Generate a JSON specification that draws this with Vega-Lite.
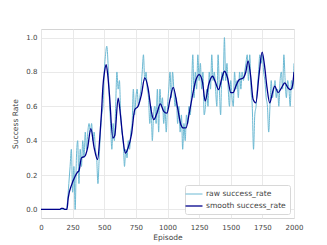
{
  "$schema": "https://vega.github.io/schema/vega-lite/v6.json",
  "width": 253,
  "height": 189,
  "autosize": {"type": "none"},
  "padding": {"left": 41, "top": 29, "right": 33, "bottom": 27},
  "background": "white",
  "config": {
    "font": "DejaVu Sans",
    "view": {"stroke": "#d4d4d4", "strokeWidth": 1},
    "axis": {
      "labelFont": "DejaVu Sans", "titleFont": "DejaVu Sans",
      "labelFontSize": 7, "titleFontSize": 7.5, "titleFontWeight": "normal",
      "labelColor": "#444", "titleColor": "#444",
      "gridColor": "#e6e6e6", "gridWidth": 0.9,
      "domain": false, "ticks": false
    },
    "legend": {"labelFont": "DejaVu Sans", "labelFontSize": 7.6, "labelColor": "#444"}
  },
  "data": {"values": [
    {"ep":0,"v":0,"s":"raw success_rate"},{"ep":10,"v":0,"s":"raw success_rate"},{"ep":20,"v":0,"s":"raw success_rate"},{"ep":30,"v":0,"s":"raw success_rate"},{"ep":40,"v":0,"s":"raw success_rate"},{"ep":50,"v":0,"s":"raw success_rate"},{"ep":60,"v":0,"s":"raw success_rate"},{"ep":70,"v":0,"s":"raw success_rate"},{"ep":80,"v":0,"s":"raw success_rate"},{"ep":90,"v":0,"s":"raw success_rate"},{"ep":100,"v":0,"s":"raw success_rate"},{"ep":110,"v":0,"s":"raw success_rate"},{"ep":120,"v":0,"s":"raw success_rate"},{"ep":130,"v":0,"s":"raw success_rate"},{"ep":140,"v":0,"s":"raw success_rate"},{"ep":150,"v":0,"s":"raw success_rate"},{"ep":160,"v":0,"s":"raw success_rate"},{"ep":170,"v":0,"s":"raw success_rate"},{"ep":180,"v":0,"s":"raw success_rate"},{"ep":190,"v":0,"s":"raw success_rate"},{"ep":200,"v":0,"s":"raw success_rate"},
    {"ep":210,"v":0.05,"s":"raw success_rate"},{"ep":220,"v":0.15,"s":"raw success_rate"},{"ep":230,"v":0.25,"s":"raw success_rate"},{"ep":240,"v":0.35,"s":"raw success_rate"},{"ep":250,"v":0.1,"s":"raw success_rate"},{"ep":260,"v":0.25,"s":"raw success_rate"},{"ep":270,"v":0.0,"s":"raw success_rate"},{"ep":280,"v":0.3,"s":"raw success_rate"},{"ep":290,"v":0.4,"s":"raw success_rate"},{"ep":300,"v":0.15,"s":"raw success_rate"},
    {"ep":310,"v":0.35,"s":"raw success_rate"},{"ep":320,"v":0.25,"s":"raw success_rate"},{"ep":330,"v":0.4,"s":"raw success_rate"},{"ep":340,"v":0.3,"s":"raw success_rate"},{"ep":350,"v":0.45,"s":"raw success_rate"},{"ep":360,"v":0.35,"s":"raw success_rate"},{"ep":370,"v":0.45,"s":"raw success_rate"},{"ep":380,"v":0.5,"s":"raw success_rate"},{"ep":390,"v":0.45,"s":"raw success_rate"},{"ep":400,"v":0.5,"s":"raw success_rate"},
    {"ep":410,"v":0.4,"s":"raw success_rate"},{"ep":420,"v":0.45,"s":"raw success_rate"},{"ep":430,"v":0.35,"s":"raw success_rate"},{"ep":440,"v":0.3,"s":"raw success_rate"},{"ep":450,"v":0.15,"s":"raw success_rate"},{"ep":460,"v":0.3,"s":"raw success_rate"},{"ep":470,"v":0.45,"s":"raw success_rate"},{"ep":480,"v":0.55,"s":"raw success_rate"},{"ep":490,"v":0.6,"s":"raw success_rate"},{"ep":500,"v":0.8,"s":"raw success_rate"},
    {"ep":510,"v":0.9,"s":"raw success_rate"},{"ep":520,"v":0.95,"s":"raw success_rate"},{"ep":530,"v":0.85,"s":"raw success_rate"},{"ep":540,"v":0.65,"s":"raw success_rate"},{"ep":550,"v":0.5,"s":"raw success_rate"},{"ep":560,"v":0.35,"s":"raw success_rate"},{"ep":570,"v":0.5,"s":"raw success_rate"},{"ep":580,"v":0.4,"s":"raw success_rate"},{"ep":590,"v":0.6,"s":"raw success_rate"},{"ep":600,"v":0.8,"s":"raw success_rate"},
    {"ep":610,"v":0.7,"s":"raw success_rate"},{"ep":620,"v":0.75,"s":"raw success_rate"},{"ep":630,"v":0.55,"s":"raw success_rate"},{"ep":640,"v":0.45,"s":"raw success_rate"},{"ep":650,"v":0.4,"s":"raw success_rate"},{"ep":660,"v":0.25,"s":"raw success_rate"},{"ep":670,"v":0.35,"s":"raw success_rate"},{"ep":680,"v":0.3,"s":"raw success_rate"},{"ep":690,"v":0.4,"s":"raw success_rate"},{"ep":700,"v":0.35,"s":"raw success_rate"},
    {"ep":710,"v":0.45,"s":"raw success_rate"},{"ep":720,"v":0.5,"s":"raw success_rate"},{"ep":730,"v":0.7,"s":"raw success_rate"},{"ep":740,"v":0.55,"s":"raw success_rate"},{"ep":750,"v":0.65,"s":"raw success_rate"},{"ep":760,"v":0.7,"s":"raw success_rate"},{"ep":770,"v":0.6,"s":"raw success_rate"},{"ep":780,"v":0.65,"s":"raw success_rate"},{"ep":790,"v":0.7,"s":"raw success_rate"},{"ep":800,"v":0.8,"s":"raw success_rate"},
    {"ep":810,"v":0.9,"s":"raw success_rate"},{"ep":820,"v":0.75,"s":"raw success_rate"},{"ep":830,"v":0.8,"s":"raw success_rate"},{"ep":840,"v":0.7,"s":"raw success_rate"},{"ep":850,"v":0.65,"s":"raw success_rate"},{"ep":860,"v":0.5,"s":"raw success_rate"},{"ep":870,"v":0.6,"s":"raw success_rate"},{"ep":880,"v":0.4,"s":"raw success_rate"},{"ep":890,"v":0.55,"s":"raw success_rate"},{"ep":900,"v":0.6,"s":"raw success_rate"},
    {"ep":910,"v":0.5,"s":"raw success_rate"},{"ep":920,"v":0.7,"s":"raw success_rate"},{"ep":930,"v":0.45,"s":"raw success_rate"},{"ep":940,"v":0.7,"s":"raw success_rate"},{"ep":950,"v":0.6,"s":"raw success_rate"},{"ep":960,"v":0.65,"s":"raw success_rate"},{"ep":970,"v":0.5,"s":"raw success_rate"},{"ep":980,"v":0.6,"s":"raw success_rate"},{"ep":990,"v":0.45,"s":"raw success_rate"},{"ep":1000,"v":0.6,"s":"raw success_rate"},
    {"ep":1010,"v":0.7,"s":"raw success_rate"},{"ep":1020,"v":0.8,"s":"raw success_rate"},{"ep":1030,"v":0.65,"s":"raw success_rate"},{"ep":1040,"v":0.8,"s":"raw success_rate"},{"ep":1050,"v":0.7,"s":"raw success_rate"},{"ep":1060,"v":0.6,"s":"raw success_rate"},{"ep":1070,"v":0.65,"s":"raw success_rate"},{"ep":1080,"v":0.5,"s":"raw success_rate"},{"ep":1090,"v":0.6,"s":"raw success_rate"},{"ep":1100,"v":0.45,"s":"raw success_rate"},
    {"ep":1110,"v":0.55,"s":"raw success_rate"},{"ep":1120,"v":0.35,"s":"raw success_rate"},{"ep":1130,"v":0.5,"s":"raw success_rate"},{"ep":1140,"v":0.4,"s":"raw success_rate"},{"ep":1150,"v":0.55,"s":"raw success_rate"},{"ep":1160,"v":0.5,"s":"raw success_rate"},{"ep":1170,"v":0.6,"s":"raw success_rate"},{"ep":1180,"v":0.55,"s":"raw success_rate"},{"ep":1190,"v":0.7,"s":"raw success_rate"},{"ep":1200,"v":0.9,"s":"raw success_rate"},
    {"ep":1210,"v":0.65,"s":"raw success_rate"},{"ep":1220,"v":0.8,"s":"raw success_rate"},{"ep":1230,"v":0.7,"s":"raw success_rate"},{"ep":1240,"v":0.9,"s":"raw success_rate"},{"ep":1250,"v":0.75,"s":"raw success_rate"},{"ep":1260,"v":0.85,"s":"raw success_rate"},{"ep":1270,"v":0.7,"s":"raw success_rate"},{"ep":1280,"v":0.8,"s":"raw success_rate"},{"ep":1290,"v":0.55,"s":"raw success_rate"},{"ep":1300,"v":0.6,"s":"raw success_rate"},
    {"ep":1310,"v":0.7,"s":"raw success_rate"},{"ep":1320,"v":0.6,"s":"raw success_rate"},{"ep":1330,"v":0.8,"s":"raw success_rate"},{"ep":1340,"v":0.7,"s":"raw success_rate"},{"ep":1350,"v":0.9,"s":"raw success_rate"},{"ep":1360,"v":0.75,"s":"raw success_rate"},{"ep":1370,"v":0.8,"s":"raw success_rate"},{"ep":1380,"v":0.7,"s":"raw success_rate"},{"ep":1390,"v":0.6,"s":"raw success_rate"},{"ep":1400,"v":0.9,"s":"raw success_rate"},
    {"ep":1410,"v":0.7,"s":"raw success_rate"},{"ep":1420,"v":0.55,"s":"raw success_rate"},{"ep":1430,"v":0.8,"s":"raw success_rate"},{"ep":1440,"v":0.75,"s":"raw success_rate"},{"ep":1450,"v":1.0,"s":"raw success_rate"},{"ep":1460,"v":0.75,"s":"raw success_rate"},{"ep":1470,"v":0.85,"s":"raw success_rate"},{"ep":1480,"v":0.7,"s":"raw success_rate"},{"ep":1490,"v":0.6,"s":"raw success_rate"},{"ep":1500,"v":0.75,"s":"raw success_rate"},
    {"ep":1510,"v":0.65,"s":"raw success_rate"},{"ep":1520,"v":0.6,"s":"raw success_rate"},{"ep":1530,"v":0.8,"s":"raw success_rate"},{"ep":1540,"v":0.7,"s":"raw success_rate"},{"ep":1550,"v":0.75,"s":"raw success_rate"},{"ep":1560,"v":0.65,"s":"raw success_rate"},{"ep":1570,"v":0.8,"s":"raw success_rate"},{"ep":1580,"v":0.7,"s":"raw success_rate"},{"ep":1590,"v":0.8,"s":"raw success_rate"},{"ep":1600,"v":0.75,"s":"raw success_rate"},
    {"ep":1610,"v":0.8,"s":"raw success_rate"},{"ep":1620,"v":0.85,"s":"raw success_rate"},{"ep":1630,"v":0.9,"s":"raw success_rate"},{"ep":1640,"v":0.75,"s":"raw success_rate"},{"ep":1650,"v":0.9,"s":"raw success_rate"},{"ep":1660,"v":0.7,"s":"raw success_rate"},{"ep":1670,"v":0.6,"s":"raw success_rate"},{"ep":1680,"v":0.35,"s":"raw success_rate"},{"ep":1690,"v":0.55,"s":"raw success_rate"},{"ep":1700,"v":0.6,"s":"raw success_rate"},
    {"ep":1710,"v":0.7,"s":"raw success_rate"},{"ep":1720,"v":0.8,"s":"raw success_rate"},{"ep":1730,"v":0.9,"s":"raw success_rate"},{"ep":1740,"v":0.85,"s":"raw success_rate"},{"ep":1750,"v":0.9,"s":"raw success_rate"},{"ep":1760,"v":0.8,"s":"raw success_rate"},{"ep":1770,"v":0.75,"s":"raw success_rate"},{"ep":1780,"v":0.65,"s":"raw success_rate"},{"ep":1790,"v":0.6,"s":"raw success_rate"},{"ep":1800,"v":0.45,"s":"raw success_rate"},
    {"ep":1810,"v":0.6,"s":"raw success_rate"},{"ep":1820,"v":0.75,"s":"raw success_rate"},{"ep":1830,"v":0.65,"s":"raw success_rate"},{"ep":1840,"v":0.7,"s":"raw success_rate"},{"ep":1850,"v":0.75,"s":"raw success_rate"},{"ep":1860,"v":0.65,"s":"raw success_rate"},{"ep":1870,"v":0.7,"s":"raw success_rate"},{"ep":1880,"v":0.6,"s":"raw success_rate"},{"ep":1890,"v":0.75,"s":"raw success_rate"},{"ep":1900,"v":0.8,"s":"raw success_rate"},
    {"ep":1910,"v":0.7,"s":"raw success_rate"},{"ep":1920,"v":0.9,"s":"raw success_rate"},{"ep":1930,"v":0.75,"s":"raw success_rate"},{"ep":1940,"v":0.65,"s":"raw success_rate"},{"ep":1950,"v":0.75,"s":"raw success_rate"},{"ep":1960,"v":0.7,"s":"raw success_rate"},{"ep":1970,"v":0.6,"s":"raw success_rate"},{"ep":1980,"v":0.75,"s":"raw success_rate"},{"ep":1990,"v":0.7,"s":"raw success_rate"},{"ep":2000,"v":0.85,"s":"raw success_rate"},

    {"ep":0,"v":0,"s":"smooth success_rate"},{"ep":150,"v":0,"s":"smooth success_rate"},{"ep":160,"v":0.006,"s":"smooth success_rate"},{"ep":175,"v":0.006,"s":"smooth success_rate"},{"ep":190,"v":0,"s":"smooth success_rate"},{"ep":205,"v":0,"s":"smooth success_rate"},{"ep":215,"v":0.066,"s":"smooth success_rate"},{"ep":242,"v":0.143,"s":"smooth success_rate"},{"ep":268,"v":0.19,"s":"smooth success_rate"},{"ep":289,"v":0.217,"s":"smooth success_rate"},{"ep":300,"v":0.225,"s":"smooth success_rate"},{"ep":320,"v":0.3,"s":"smooth success_rate"},{"ep":347,"v":0.31,"s":"smooth success_rate"},{"ep":368,"v":0.357,"s":"smooth success_rate"},{"ep":394,"v":0.47,"s":"smooth success_rate"},{"ep":420,"v":0.36,"s":"smooth success_rate"},{"ep":447,"v":0.29,"s":"smooth success_rate"},{"ep":465,"v":0.42,"s":"smooth success_rate"},{"ep":478,"v":0.56,"s":"smooth success_rate"},{"ep":490,"v":0.72,"s":"smooth success_rate"},{"ep":502,"v":0.8,"s":"smooth success_rate"},{"ep":515,"v":0.843,"s":"smooth success_rate"},{"ep":528,"v":0.78,"s":"smooth success_rate"},{"ep":541,"v":0.668,"s":"smooth success_rate"},{"ep":568,"v":0.415,"s":"smooth success_rate"},{"ep":583,"v":0.43,"s":"smooth success_rate"},{"ep":610,"v":0.648,"s":"smooth success_rate"},{"ep":628,"v":0.55,"s":"smooth success_rate"},{"ep":647,"v":0.415,"s":"smooth success_rate"},{"ep":667,"v":0.328,"s":"smooth success_rate"},{"ep":688,"v":0.357,"s":"smooth success_rate"},{"ep":715,"v":0.435,"s":"smooth success_rate"},{"ep":741,"v":0.58,"s":"smooth success_rate"},{"ep":767,"v":0.6,"s":"smooth success_rate"},{"ep":794,"v":0.668,"s":"smooth success_rate"},{"ep":820,"v":0.765,"s":"smooth success_rate"},{"ep":846,"v":0.707,"s":"smooth success_rate"},{"ep":872,"v":0.571,"s":"smooth success_rate"},{"ep":891,"v":0.522,"s":"smooth success_rate"},{"ep":917,"v":0.561,"s":"smooth success_rate"},{"ep":943,"v":0.614,"s":"smooth success_rate"},{"ep":970,"v":0.571,"s":"smooth success_rate"},{"ep":995,"v":0.56,"s":"smooth success_rate"},{"ep":1020,"v":0.64,"s":"smooth success_rate"},{"ep":1045,"v":0.71,"s":"smooth success_rate"},{"ep":1080,"v":0.59,"s":"smooth success_rate"},{"ep":1106,"v":0.493,"s":"smooth success_rate"},{"ep":1125,"v":0.474,"s":"smooth success_rate"},{"ep":1146,"v":0.474,"s":"smooth success_rate"},{"ep":1172,"v":0.561,"s":"smooth success_rate"},{"ep":1199,"v":0.668,"s":"smooth success_rate"},{"ep":1225,"v":0.755,"s":"smooth success_rate"},{"ep":1251,"v":0.785,"s":"smooth success_rate"},{"ep":1277,"v":0.74,"s":"smooth success_rate"},{"ep":1298,"v":0.63,"s":"smooth success_rate"},{"ep":1325,"v":0.726,"s":"smooth success_rate"},{"ep":1356,"v":0.775,"s":"smooth success_rate"},{"ep":1377,"v":0.745,"s":"smooth success_rate"},{"ep":1404,"v":0.697,"s":"smooth success_rate"},{"ep":1430,"v":0.765,"s":"smooth success_rate"},{"ep":1451,"v":0.804,"s":"smooth success_rate"},{"ep":1475,"v":0.765,"s":"smooth success_rate"},{"ep":1500,"v":0.68,"s":"smooth success_rate"},{"ep":1519,"v":0.68,"s":"smooth success_rate"},{"ep":1540,"v":0.717,"s":"smooth success_rate"},{"ep":1566,"v":0.755,"s":"smooth success_rate"},{"ep":1598,"v":0.765,"s":"smooth success_rate"},{"ep":1619,"v":0.8,"s":"smooth success_rate"},{"ep":1637,"v":0.865,"s":"smooth success_rate"},{"ep":1656,"v":0.785,"s":"smooth success_rate"},{"ep":1677,"v":0.639,"s":"smooth success_rate"},{"ep":1698,"v":0.62,"s":"smooth success_rate"},{"ep":1724,"v":0.785,"s":"smooth success_rate"},{"ep":1748,"v":0.915,"s":"smooth success_rate"},{"ep":1766,"v":0.843,"s":"smooth success_rate"},{"ep":1787,"v":0.707,"s":"smooth success_rate"},{"ep":1808,"v":0.62,"s":"smooth success_rate"},{"ep":1830,"v":0.68,"s":"smooth success_rate"},{"ep":1848,"v":0.717,"s":"smooth success_rate"},{"ep":1874,"v":0.68,"s":"smooth success_rate"},{"ep":1901,"v":0.707,"s":"smooth success_rate"},{"ep":1927,"v":0.736,"s":"smooth success_rate"},{"ep":1953,"v":0.707,"s":"smooth success_rate"},{"ep":1974,"v":0.697,"s":"smooth success_rate"},{"ep":1988,"v":0.72,"s":"smooth success_rate"},{"ep":2000,"v":0.8,"s":"smooth success_rate"}
  ]},
  "mark": {"type": "line", "interpolate": "monotone", "clip": true},
  "encoding": {
    "x": {"field": "ep", "type": "quantitative", "title": "Episode",
          "scale": {"domain": [0, 2000], "nice": false, "zero": false},
          "axis": {"values": [0, 250, 500, 750, 1000, 1250, 1500, 1750, 2000], "format": "d", "labelPadding": 5, "titlePadding": 3, "labelFlush": false}},
    "y": {"field": "v", "type": "quantitative", "title": "Success Rate",
          "scale": {"domain": [-0.05, 1.05], "nice": false, "zero": false},
          "axis": {"values": [0, 0.2, 0.4, 0.6, 0.8, 1.0], "format": ".1f", "labelPadding": 4, "titlePadding": 6}},
    "color": {"field": "s", "type": "nominal", "title": null,
              "scale": {"domain": ["raw success_rate", "smooth success_rate"], "range": ["#6cb9d3", "#00008b"]},
              "legend": {"orient": "bottom-right", "offset": 4, "padding": 4, "fillColor": "white", "strokeColor": "#d8d8d8", "cornerRadius": 2, "symbolType": "M-2,0H2", "symbolSize": 72, "symbolStrokeWidth": 1.5, "rowPadding": 3, "labelOffset": 7}},
    "strokeWidth": {"field": "s", "type": "nominal", "legend": null,
                    "scale": {"domain": ["raw success_rate", "smooth success_rate"], "range": [1, 1.3]}}
  }
}
